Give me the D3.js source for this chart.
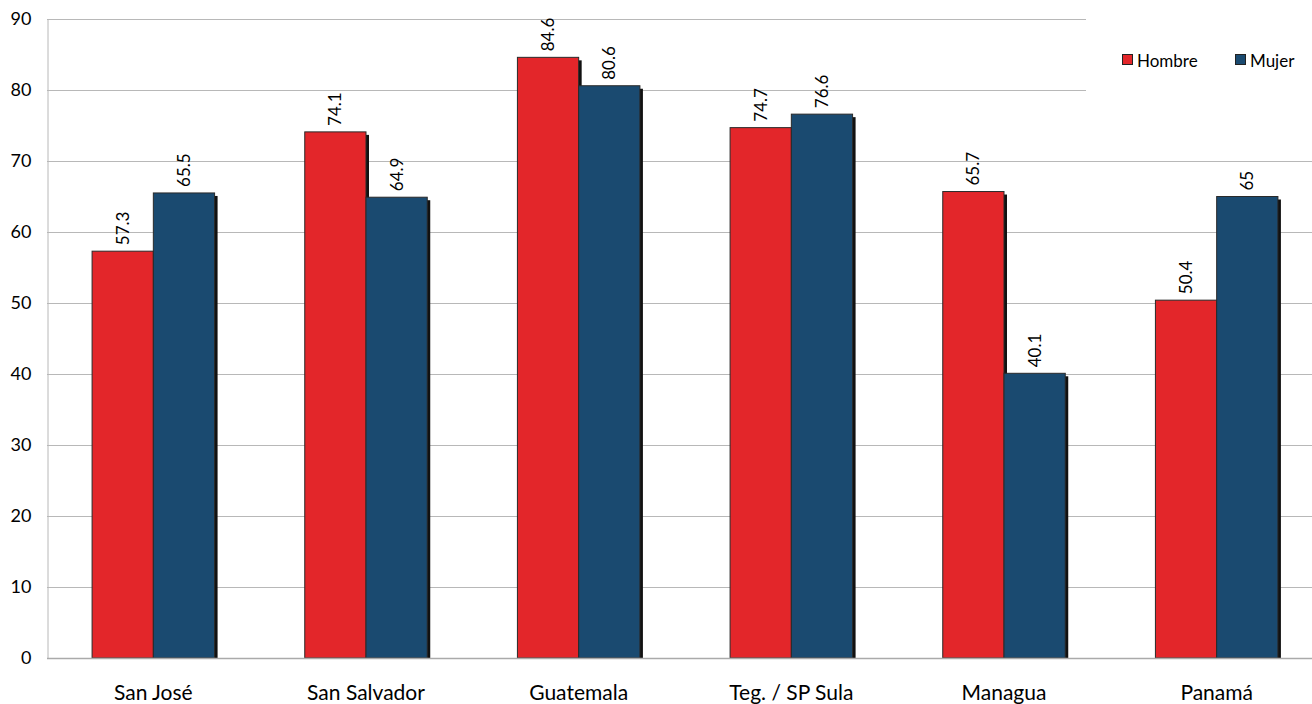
<!DOCTYPE html>
<html>
<head>
<meta charset="utf-8">
<script src="https://cdn.jsdelivr.net/npm/d3@7"></script>
<style>
  html, body { margin: 0; padding: 0; background: #fff; }
  svg { display: block; font-family: Lato, "Open Sans", sans-serif; }
</style>
</head>
<body>
<svg id="chart" width="1312" height="704"></svg>
<script>
// Categories and series
const cities = ["San José", "San Salvador", "Guatemala", "Teg. / SP Sula", "Managua", "Panamá"];
const seriesNames = ["Hombre", "Mujer"];
const hombre = [57.3, 74.1, 84.6, 74.7, 65.7, 50.4];
const mujer = [65.5, 64.9, 80.6, 76.6, 40.1, 65];
const yTicks = [0, 10, 20, 30, 40, 50, 60, 70, 80, 90];
const colors = { Hombre: "#e3262a", Mujer: "#1a4a70" };

const svg = d3.select("#chart");
const plotLeft = 47, plotTop = 19, plotBottom = 658, plotRight = 1323;

const x0 = d3.scaleBand().domain(cities).range([plotLeft, plotRight]);
const bw = x0.bandwidth();
const x1 = d3.scaleBand().domain(seriesNames).range([bw * 0.212, bw * 0.788]);
const y = d3.scaleLinear().domain([0, 90]).range([plotBottom, plotTop]);

// Gridlines
const grid = svg.append("g");
grid.selectAll("line").data(yTicks.filter(t => t > 0)).join("line")
  .attr("x1", plotLeft)
  .attr("x2", t => t >= 80 ? 1086 : 1312)
  .attr("y1", t => Math.round(y(t)) + 0.5)
  .attr("y2", t => Math.round(y(t)) + 0.5)
  .attr("stroke", "#b8b8b8").attr("stroke-width", 1);

// Y axis
const yAxis = svg.append("g").attr("transform", `translate(${plotLeft + 0.5},0)`)
  .call(d3.axisLeft(y).tickValues(yTicks).tickSize(0).tickPadding(16));
yAxis.select(".domain").attr("stroke", "#b8b8b8");
yAxis.selectAll("text").attr("font-size", 18).attr("fill", "#000")
  .attr("font-family", "Lato, 'Open Sans', sans-serif");

// Rows of bar data
const rows = cities.map((c, i) => ({ city: c, values: [
  { key: "Hombre", value: hombre[i] },
  { key: "Mujer", value: mujer[i] }
]}));

const groups = svg.append("g").selectAll("g").data(rows).join("g")
  .attr("transform", d => `translate(${x0(d.city)},0)`);

// Drop shadows
groups.selectAll("rect.shadow").data(d => d.values).join("rect")
  .attr("class", "shadow")
  .attr("x", d => x1(d.key) + 3)
  .attr("y", d => y(d.value) + 3)
  .attr("width", x1.bandwidth())
  .attr("height", d => plotBottom - y(d.value) - 3)
  .attr("fill", "#111");

// Bars
groups.selectAll("rect.bar").data(d => d.values).join("rect")
  .attr("class", "bar")
  .attr("x", d => x1(d.key))
  .attr("y", d => y(d.value))
  .attr("width", x1.bandwidth())
  .attr("height", d => plotBottom - y(d.value))
  .attr("fill", d => colors[d.key])
  .attr("stroke", "#2a2a2a").attr("stroke-width", 1);

// Value labels (rotated)
groups.selectAll("text.val").data(d => d.values).join("text")
  .attr("class", "val")
  .attr("transform", d => `translate(${x1(d.key) + x1.bandwidth() / 2 + 6},${y(d.value) - 6}) rotate(-90)`)
  .attr("font-size", 17).attr("fill", "#000")
  .text(d => d.value);

// Baseline
svg.append("line")
  .attr("x1", plotLeft).attr("x2", 1312)
  .attr("y1", plotBottom + 0.5).attr("y2", plotBottom + 0.5)
  .attr("stroke", "#aaa").attr("stroke-width", 1.5);

// Category labels
svg.append("g").selectAll("text").data(cities).join("text")
  .attr("x", d => x0(d) + bw / 2)
  .attr("y", 700)
  .attr("text-anchor", "middle")
  .attr("font-size", 21).attr("fill", "#000")
  .text(d => d);

// Legend
const legend = svg.append("g");
const legendX = [1122, 1235];
seriesNames.forEach((s, i) => {
  legend.append("rect")
    .attr("x", legendX[i] + 0.5).attr("y", 54.5)
    .attr("width", 10).attr("height", 10)
    .attr("fill", colors[s]).attr("stroke", "#222").attr("stroke-width", 1);
  legend.append("text")
    .attr("x", legendX[i] + 15).attr("y", 67)
    .attr("font-size", 17).attr("fill", "#000")
    .text(s);
});
</script>
</body>
</html>
